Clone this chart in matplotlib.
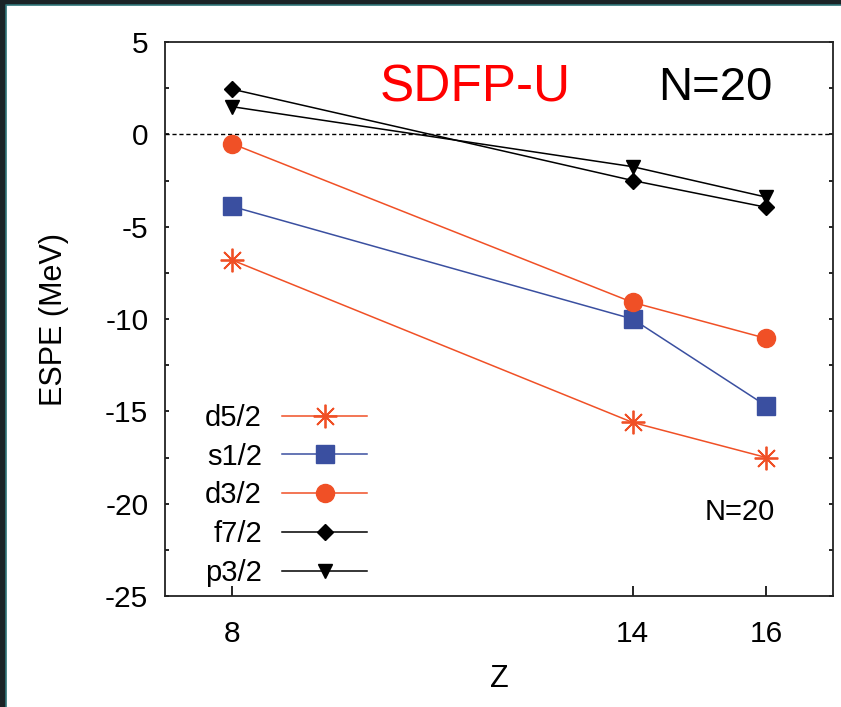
import matplotlib
matplotlib.use("Agg")
import matplotlib.pyplot as plt
from matplotlib.patches import Rectangle
from matplotlib.ticker import MultipleLocator

# Data (ESPE in MeV vs Z, N=20)
z_vals = [8, 14, 16]
d52 = [-6.8, -15.6, -17.5]
s12 = [-3.9, -10.0, -14.7]
d32 = [-0.5, -9.1, -11.05]
f72 = [2.45, -2.5, -3.95]
p32 = [1.5, -1.75, -3.4]
labels = ["d5/2", "s1/2", "d3/2", "f7/2", "p3/2"]
x_ticks = [8, 14, 16]
y_ticks = [5, 0, -5, -10, -15, -20, -25]

W, H = 841, 707
plt.rcParams["font.family"] = ["Liberation Sans", "DejaVu Sans"]
plt.rcParams["axes.unicode_minus"] = False

fig = plt.figure(figsize=(W / 100, H / 100), dpi=100)
fig.patch.set_facecolor("white")


def px(x, y):
    # pixel position measured from the top-left corner -> figure fraction
    return x / W, 1 - y / H


# dark screenshot border on the left and top, thin teal edge
dark = "#1b2326"
fig.patches.append(Rectangle((0, 0), 6 / W, 1, transform=fig.transFigure,
                             facecolor=dark, edgecolor="none", zorder=-5))
fig.patches.append(Rectangle((0, 1 - 5 / H), 1, 5 / H, transform=fig.transFigure,
                             facecolor=dark, edgecolor="none", zorder=-5))
fig.add_artist(plt.Line2D([6 / W, 6 / W, 1], [0, 1 - 5 / H, 1 - 5 / H],
                          transform=fig.transFigure, color="#2f7478",
                          linewidth=1.2, zorder=-4))

ax = fig.add_axes([165 / W, 1 - 596 / H, (833 - 165) / W, (596 - 42) / H])
ax.set_facecolor("white")

orange = "#f05026"
blue = "#3a4fa0"

ax.axhline(0, color="black", linestyle=(0, (3, 2)), linewidth=1.0, zorder=1)

ax.plot(z_vals, d52, color=orange, linewidth=1.1, marker=(8, 2, 0),
        markersize=17, markeredgewidth=1.3, label=labels[0])
ax.plot(z_vals, s12, color=blue, linewidth=1.1, marker="s",
        markersize=13, label=labels[1])
ax.plot(z_vals, d32, color=orange, linewidth=1.1, marker="o",
        markersize=13, label=labels[2])
ax.plot(z_vals, f72, color="black", linewidth=1.1, marker="D",
        markersize=8.5, label=labels[3])
ax.plot(z_vals, p32, color="black", linewidth=1.1, marker="v",
        markersize=10.5, label=labels[4])

ax.set_xlim(7, 17)
ax.set_ylim(-25, 5)
ax.set_xticks(x_ticks)
ax.set_yticks(y_ticks)
ax.yaxis.set_minor_locator(MultipleLocator(2.5))

for s in ax.spines.values():
    s.set_linewidth(1.3)
    s.set_color("#222222")

ax.tick_params(axis="x", direction="in", length=7, width=1.2, pad=17,
               labelsize=21.5, top=False)
ax.tick_params(axis="y", which="both", direction="in", length=3, width=1.2,
               pad=12, labelsize=21.5, right=True)

ax.set_xlabel("Z", fontsize=22, labelpad=12)
ax.set_ylabel("ESPE (MeV)", fontsize=22, labelpad=26)

fig.text(*px(475, 88), "SDFP-U", color="#ff0000", fontsize=37,
         ha="center", va="center")
fig.text(*px(715, 88), "N=20", color="black", fontsize=34,
         ha="center", va="center")
fig.text(*px(740, 512), "N=20", color="black", fontsize=21,
         ha="center", va="center")

leg = ax.legend(loc="lower right", bbox_to_anchor=px(367, 587),
                bbox_transform=fig.transFigure, frameon=False, markerfirst=False,
                fontsize=21, handlelength=2.9, handletextpad=0.7,
                labelspacing=0.37, borderpad=0, borderaxespad=0)

fig.savefig("out.png", dpi=100, facecolor=fig.get_facecolor())
